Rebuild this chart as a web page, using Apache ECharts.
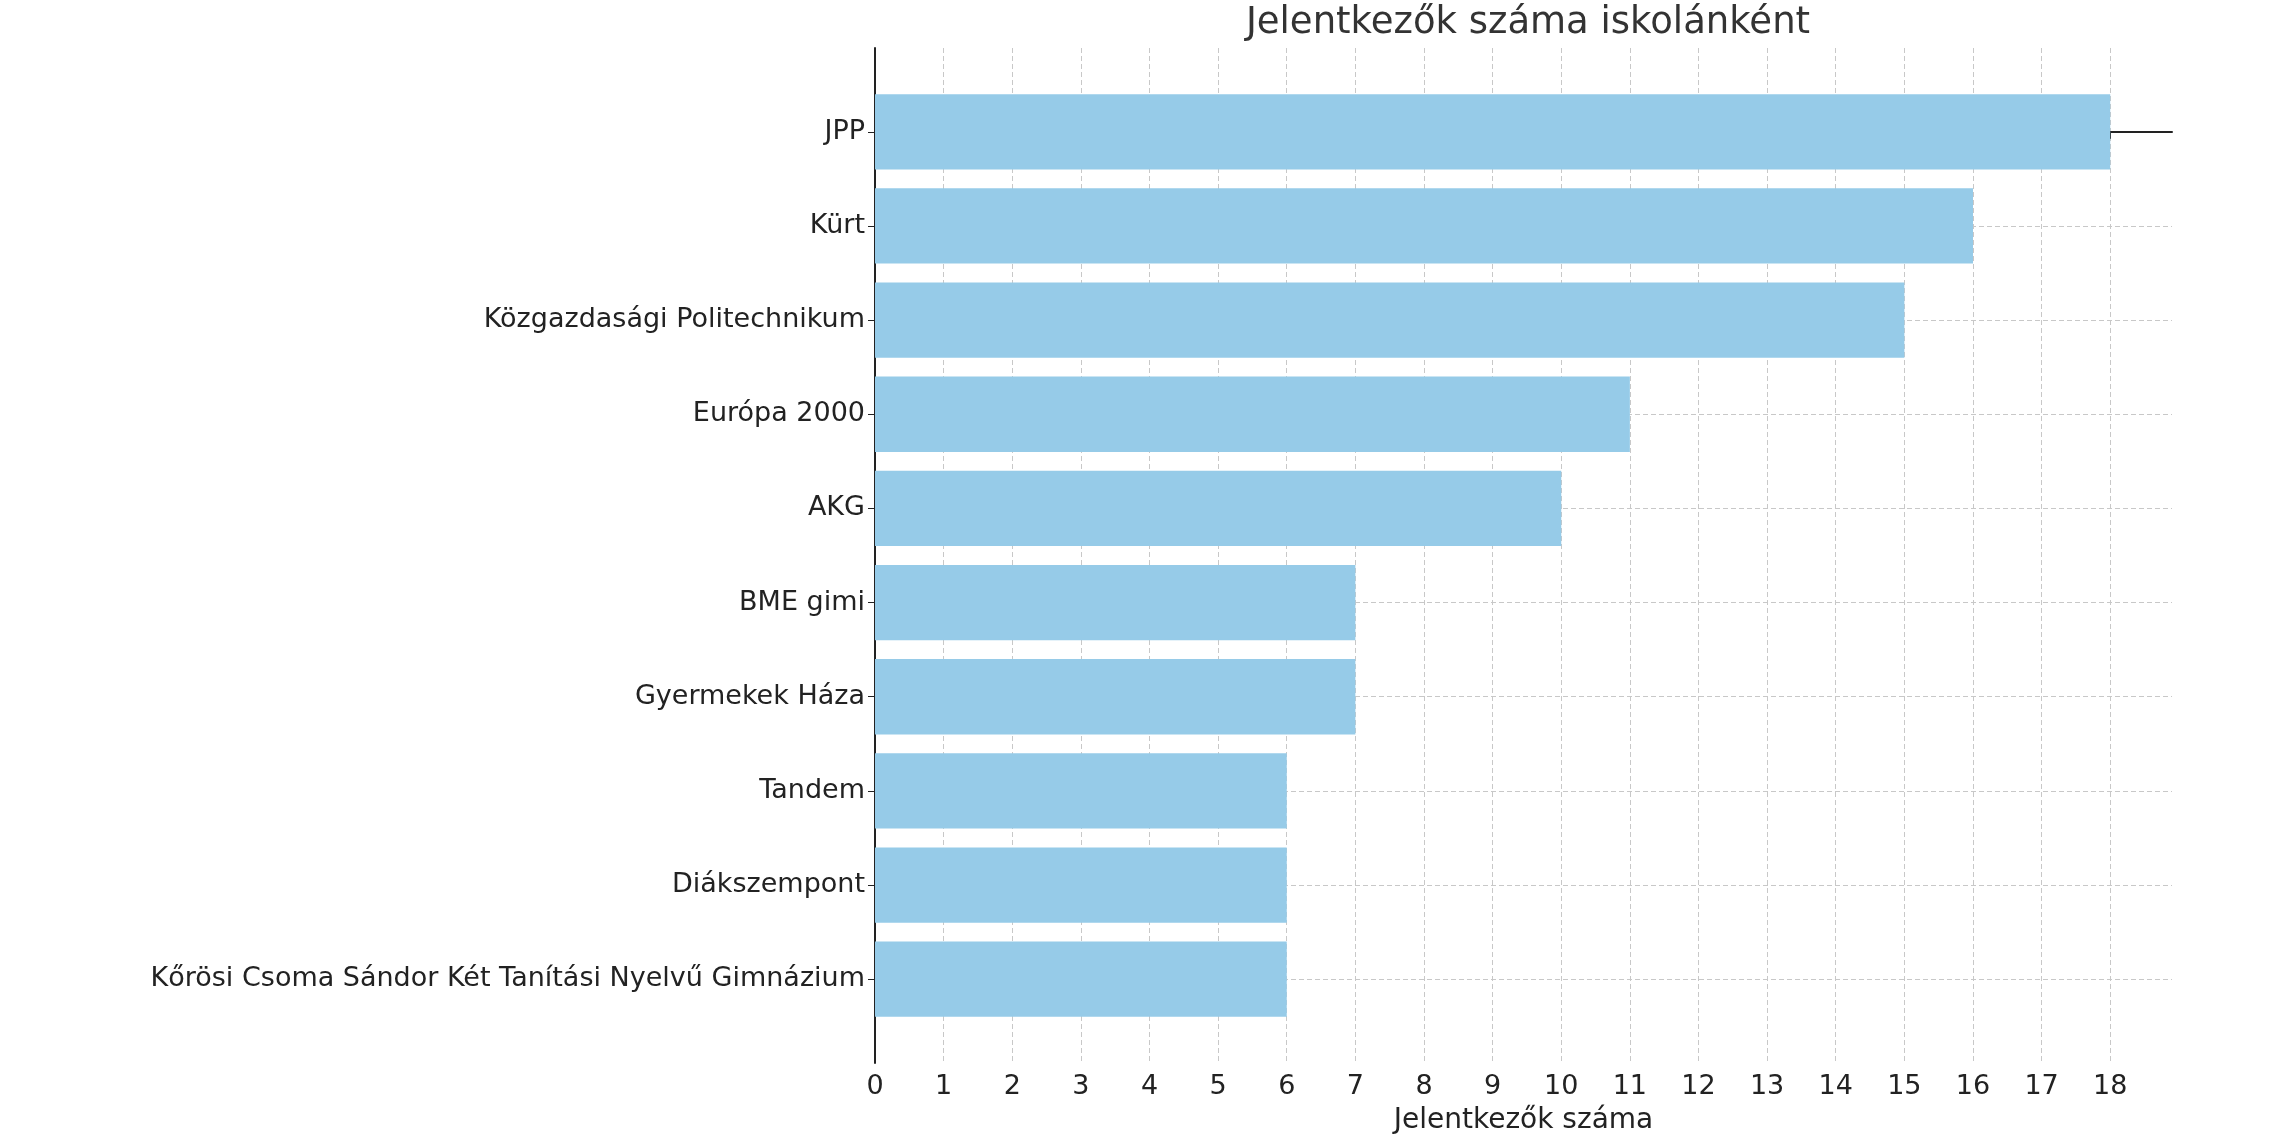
<!DOCTYPE html>
<html><head><meta charset="utf-8">
<script src="https://cdn.jsdelivr.net/npm/echarts@6/dist/echarts.min.js"></script>
<style>html,body{margin:0;padding:0;background:#fff}#c{width:2274px;height:1140px}</style>
</head><body><div id="c"></div>
<script>
var schools = ['JPP', 'Kürt', 'Közgazdasági Politechnikum', 'Európa 2000', 'AKG', 'BME gimi',
  'Gyermekek Háza', 'Tandem', 'Diákszempont', 'Kőrösi Csoma Sándor Két Tanítási Nyelvű Gimnázium'];
var counts = [18, 16, 15, 11, 10, 7, 7, 6, 6, 6];
var xTicks = [0,1,2,3,4,5,6,7,8,9,10,11,12,13,14,15,16,17,18];
var yTicks = [0,1,2,3,4,5,6,7,8,9];

var chart = echarts.init(document.getElementById('c'));
var font = 'DejaVu Sans';
var grid = {show: true, lineStyle: {color: '#c8c8c8', type: [5, 3], width: 1}};
chart.setOption({
  animation: false,
  textStyle: {fontFamily: font},
  title: {text: 'Jelentkezők száma iskolánként', left: 1523, textAlign: 'center', top: 0,
    textStyle: {fontSize: 37, fontWeight: 'normal', color: '#333', fontFamily: font}},
  grid: {left: 875, right: 102, top: 48, bottom: 60},
  xAxis: {type: 'value', min: 0, max: 18.9,
    name: 'Jelentkezők száma', nameLocation: 'middle', nameGap: 44,
    nameTextStyle: {fontSize: 28, color: '#222'},
    axisLine: {show: true, lineStyle: {color: '#222', width: 2}},
    axisTick: {show: true, length: 7, customValues: xTicks, lineStyle: {color: '#222'}},
    axisLabel: {fontSize: 27, color: '#222', customValues: xTicks, margin: 10},
    splitLine: grid},
  yAxis: {type: 'value', min: -0.89, max: 9.89, inverse: true,
    axisLine: {show: true, lineStyle: {color: '#222', width: 2}},
    axisTick: {show: true, length: 7, customValues: yTicks, lineStyle: {color: '#222'}},
    axisLabel: {fontSize: 27, color: '#222', customValues: yTicks, margin: 10,
      formatter: function (v) { return schools[Math.round(v)]; }},
    splitLine: grid},
  series: [{
    type: 'custom',
    data: counts.map(function (v, i) { return [v, i]; }),
    renderItem: function (params, api) {
      var v = api.value(0), i = api.value(1);
      var p0 = api.coord([0, i - 0.4]);
      var p1 = api.coord([v, i + 0.4]);
      return {type: 'rect', shape: {x: p0[0], y: p0[1], width: p1[0] - p0[0], height: p1[1] - p0[1]},
        style: {fill: '#96cbe8'}};
    }
  }]
});
</script></body></html>
